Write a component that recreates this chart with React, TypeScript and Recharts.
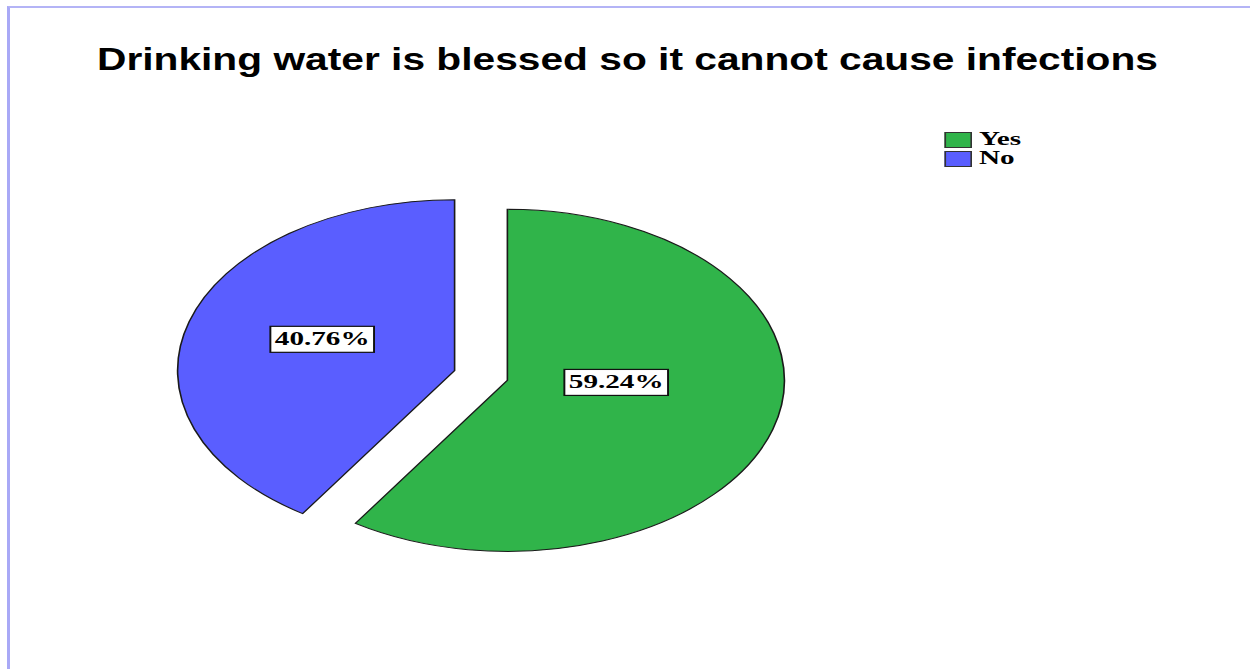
import React from "react"
import { PieChart, Pie, Cell, Legend } from "recharts"

// data
const categories = ["Yes", "No"]
const percents = [59.24, 40.76]
const colors = ["#30b44a", "#5a5eff"]

// the original picture is stretched sideways, so the pie is drawn
// in a narrower box and scaled on x
const SX = 1.62
const W = 1250 / SX
const H = 669
const CX = 481 / SX
const CY = 375.5
const R = 171
const EXPLODE = 17

const data = categories.map((name, i) => ({ name, value: percents[i] }))

const total = percents.reduce((a, b) => a + b, 0)
// mid angle of every slice (recharts degrees, start at 12 o'clock, clockwise)
const midAngles = percents.map((v, i) => {
    const before = percents.slice(0, i).reduce((a, b) => a + b, 0)
    return 90 - ((before + v / 2) / total) * 360
})

const rad = (deg: number) => (deg * Math.PI) / 180

const renderLabel = (show: number) => (props: any) => {
    const { cx, cy, midAngle, startAngle, endAngle, index, value } = props
    if (index !== show) return null
    // label near the slice centroid
    const theta = rad(Math.abs(endAngle - startAngle))
    const k = Math.max((4 * Math.sin(theta / 2)) / (3 * theta), 0.41)
    const x = cx + k * R * Math.cos(rad(midAngle))
    const y = cy - 0.75 * k * R * Math.sin(rad(midAngle)) - 13
    const bw = 64
    const bh = 26
    return (
        <g>
            <rect x={x - bw / 2} y={y - bh / 2} width={bw} height={bh} fill="#fff" stroke="#111" strokeWidth={1.2} />
            <text
                x={x}
                y={y + 6}
                textAnchor="middle"
                fontFamily="'Liberation Serif', serif"
                fontWeight="bold"
                fontSize={18}
                fill="#000"
            >
                {`${Number(value).toFixed(2)}%`}
            </text>
        </g>
    )
}

const renderLegend = () => (
    <div style={{ fontFamily: "'Liberation Serif', serif", fontWeight: "bold", fontSize: 18, lineHeight: "19px" }}>
        {categories.map((name, i) => (
            <div key={name} style={{ display: "flex", alignItems: "center", height: 19 }}>
                <span
                    style={{
                        display: "inline-block",
                        width: 15,
                        height: 14,
                        background: colors[i],
                        border: "1px solid #333",
                        marginRight: 4,
                    }}
                />
                <span style={{ color: "#000" }}>{name}</span>
            </div>
        ))}
    </div>
)

export default function App() {
    return (
        <div style={{ position: "absolute", left: 0, top: 0, width: 1250, height: 669, overflow: "hidden", background: "#fff" }}>
            <div
                style={{
                    position: "absolute",
                    left: 7,
                    top: 6,
                    width: 1240,
                    height: 720,
                    borderLeft: "3px solid #a9a9f6",
                    borderTop: "2px solid #b4b4f6",
                    borderRight: "1px solid #c4c4f6",
                }}
            />
            <svg width={1250} height={100} style={{ position: "absolute", left: 0, top: 0 }}>
                <text
                    x={97}
                    y={70}
                    fontFamily="'Liberation Sans', Arial, sans-serif"
                    fontWeight="bold"
                    fontSize={31}
                    textLength={1061}
                    lengthAdjust="spacingAndGlyphs"
                    fill="#000"
                >
                    Drinking water is blessed so it cannot cause infections
                </text>
            </svg>
            <div
                style={{
                    position: "absolute",
                    left: 0,
                    top: 0,
                    width: W,
                    height: H,
                    transform: `scaleX(${SX})`,
                    transformOrigin: "0 0",
                }}
            >
                <PieChart width={W} height={H} margin={{ top: 0, right: 0, bottom: 0, left: 0 }}>
                    {categories.map((name, s) => (
                        <Pie
                            key={name}
                            data={data}
                            dataKey="value"
                            nameKey="name"
                            cx={CX + EXPLODE * Math.cos(rad(midAngles[s]))}
                            cy={CY - EXPLODE * Math.sin(rad(midAngles[s]))}
                            outerRadius={R}
                            innerRadius={0}
                            startAngle={90}
                            endAngle={-270}
                            labelLine={false}
                            label={renderLabel(s)}
                            isAnimationActive={false}
                        >
                            {data.map((d, i) => (
                                <Cell
                                    key={d.name}
                                    fill={i === s ? colors[i] : "transparent"}
                                    stroke={i === s ? "#1a1a1a" : "none"}
                                    strokeWidth={1}
                                />
                            ))}
                        </Pie>
                    ))}
                    <Legend
                        content={renderLegend}
                        wrapperStyle={{ position: "absolute", left: 945 / SX, top: 130, width: "auto" }}
                    />
                </PieChart>
            </div>
        </div>
    )
}
